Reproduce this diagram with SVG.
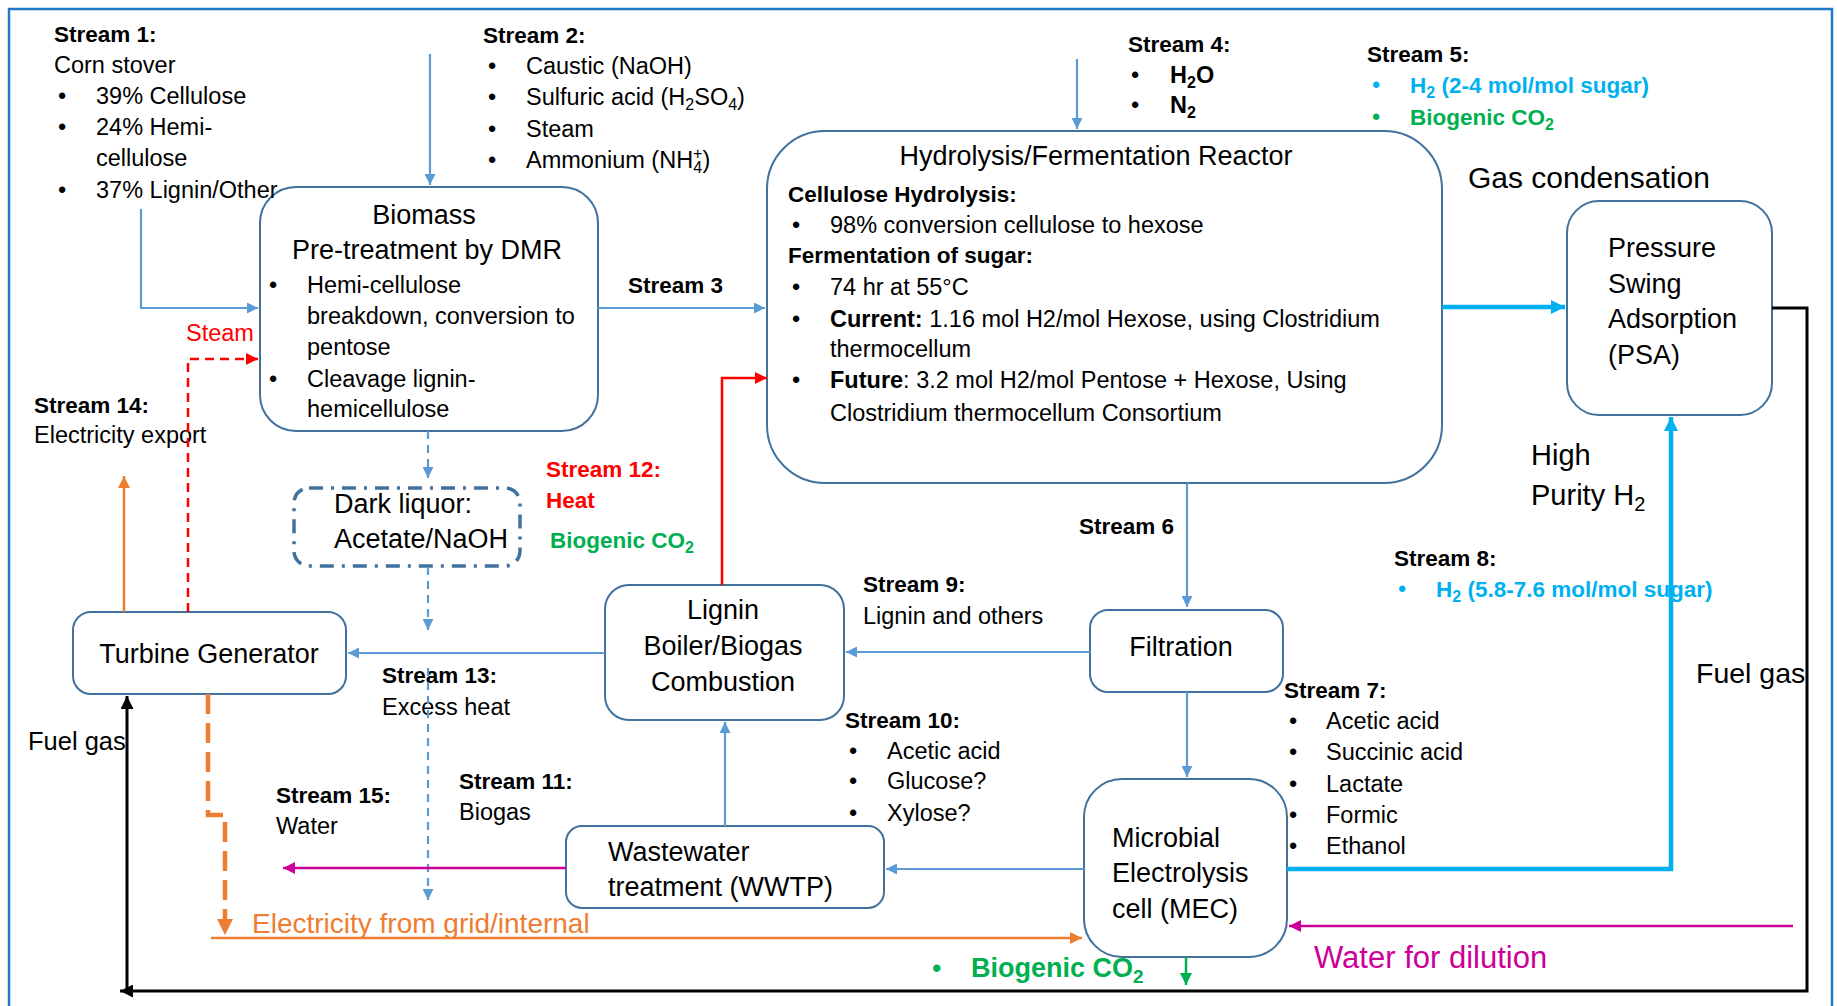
<svg xmlns="http://www.w3.org/2000/svg" width="1837" height="1006" viewBox="0 0 1837 1006">
<style>
text{font-family:"Liberation Sans",Arial,sans-serif;font-size:23.5px;fill:#000}
.b{font-weight:bold;font-size:22.5px}
.h{font-size:27px}
.big{font-size:30px}
.sub{font-size:16px}
.red{fill:#FF0000}
.grn{fill:#00B050}
.cyn{fill:#00B0F0}
.org{fill:#ED7D31}
.mag{fill:#CC0099}
.box{fill:#fff;stroke:#41719C;stroke-width:2}
.blue{stroke:#5B9BD5;stroke-width:2.2;fill:none}
.cyan{stroke:#00B0F0;stroke-width:4.5;fill:none}
.redl{stroke:#FF0000;stroke-width:2.5;fill:none}
.orl{stroke:#ED7D31;stroke-width:2.5;fill:none}
.magl{stroke:#CC0099;stroke-width:2.5;fill:none}
.blk{stroke:#000;stroke-width:3;fill:none}
.grl{stroke:#00B050;stroke-width:2.5;fill:none}
</style>
<defs>
<marker id="ab" viewBox="0 0 10 10" refX="10" refY="5" markerWidth="11" markerHeight="11" markerUnits="userSpaceOnUse" orient="auto"><path d="M0,0L10,5L0,10z" fill="#5B9BD5"/></marker>
<marker id="ac" viewBox="0 0 10 10" refX="10" refY="5" markerWidth="14" markerHeight="14" markerUnits="userSpaceOnUse" orient="auto"><path d="M0,0L10,5L0,10z" fill="#00B0F0"/></marker>
<marker id="ar" viewBox="0 0 10 10" refX="10" refY="5" markerWidth="12" markerHeight="12" markerUnits="userSpaceOnUse" orient="auto"><path d="M0,0L10,5L0,10z" fill="#FF0000"/></marker>
<marker id="ao" viewBox="0 0 10 10" refX="10" refY="5" markerWidth="12" markerHeight="12" markerUnits="userSpaceOnUse" orient="auto"><path d="M0,0L10,5L0,10z" fill="#ED7D31"/></marker>
<marker id="ao2" viewBox="0 0 10 10" refX="10" refY="5" markerWidth="16" markerHeight="16" markerUnits="userSpaceOnUse" orient="auto"><path d="M0,0L10,5L0,10z" fill="#ED7D31"/></marker>
<marker id="am" viewBox="0 0 10 10" refX="10" refY="5" markerWidth="12" markerHeight="12" markerUnits="userSpaceOnUse" orient="auto"><path d="M0,0L10,5L0,10z" fill="#CC0099"/></marker>
<marker id="ak" viewBox="0 0 10 10" refX="10" refY="5" markerWidth="13" markerHeight="13" markerUnits="userSpaceOnUse" orient="auto"><path d="M0,0L10,5L0,10z" fill="#000"/></marker>
<marker id="ag" viewBox="0 0 10 10" refX="10" refY="5" markerWidth="12" markerHeight="12" markerUnits="userSpaceOnUse" orient="auto"><path d="M0,0L10,5L0,10z" fill="#00B050"/></marker>
</defs>
<rect width="1837" height="1006" fill="#fff"/>
<path d="M9,1012V9H1832V1012" fill="none" stroke="#1F78C8" stroke-width="2.5"/>

<g id="biomass">
<rect class="box" x="260" y="187" width="338" height="244" rx="36"/>
<text class="h" x="424" y="224" text-anchor="middle">Biomass</text>
<text class="h" x="427" y="259" text-anchor="middle">Pre-treatment by DMR</text>
<text x="269" y="293">•</text><text x="307" y="293">Hemi-cellulose</text>
<text x="307" y="324">breakdown, conversion to</text>
<text x="307" y="355">pentose</text>
<text x="269" y="387">•</text><text x="307" y="387">Cleavage lignin-</text>
<text x="307" y="417">hemicellulose</text>
</g>

<g id="hydrolysis">
<rect class="box" x="767" y="131" width="675" height="352" rx="58"/>
<text class="h" x="1096" y="165" text-anchor="middle">Hydrolysis/Fermentation Reactor</text>
<text class="b" x="788" y="202">Cellulose Hydrolysis:</text>
<text x="792" y="233">•</text><text x="830" y="233">98% conversion cellulose to hexose</text>
<text class="b" x="788" y="263">Fermentation of sugar:</text>
<text x="792" y="295">•</text><text x="830" y="295">74 hr at 55°C</text>
<text x="792" y="327">•</text><text x="830" y="327"><tspan font-weight="bold">Current:</tspan> 1.16 mol H2/mol Hexose, using Clostridium</text>
<text x="830" y="357">thermocellum</text>
<text x="792" y="388">•</text><text x="830" y="388"><tspan font-weight="bold">Future</tspan>: 3.2 mol H2/mol Pentose + Hexose, Using</text>
<text x="830" y="421">Clostridium thermocellum Consortium</text>
</g>

<g id="psa">
<rect class="box" x="1567" y="201" width="205" height="214" rx="32"/>
<text class="h" x="1608" y="257">Pressure</text>
<text class="h" x="1608" y="293">Swing</text>
<text class="h" x="1608" y="328">Adsorption</text>
<text class="h" x="1608" y="364">(PSA)</text>
</g>

<g id="darkliquor">
<rect x="294" y="488" width="226" height="78" rx="15" fill="#fff" stroke="#41719C" stroke-width="3.5" stroke-dasharray="14 8 3 8"/>
<text class="h" x="334" y="513">Dark liquor:</text>
<text class="h" x="334" y="548">Acetate/NaOH</text>
</g>

<g id="turbine">
<rect class="box" x="73" y="612" width="273" height="82" rx="18"/>
<text class="h" x="209" y="663" text-anchor="middle">Turbine Generator</text>
</g>

<g id="lignin">
<rect class="box" x="605" y="585" width="239" height="135" rx="24"/>
<text class="h" x="723" y="619" text-anchor="middle">Lignin</text>
<text class="h" x="723" y="655" text-anchor="middle">Boiler/Biogas</text>
<text class="h" x="723" y="691" text-anchor="middle">Combustion</text>
</g>

<g id="filtration">
<rect class="box" x="1090" y="610" width="193" height="82" rx="18"/>
<text class="h" x="1181" y="656" text-anchor="middle">Filtration</text>
</g>

<g id="mec">
<rect class="box" x="1084" y="779" width="203" height="178" rx="38"/>
<text class="h" x="1112" y="847">Microbial</text>
<text class="h" x="1112" y="882">Electrolysis</text>
<text class="h" x="1112" y="918">cell (MEC)</text>
</g>

<g id="wwtp">
<rect class="box" x="566" y="826" width="318" height="82" rx="16"/>
<text class="h" x="608" y="861">Wastewater</text>
<text class="h" x="608" y="896">treatment (WWTP)</text>
</g>

<g id="labels">
<text class="b" x="54" y="42">Stream 1:</text>
<text x="54" y="73">Corn stover</text>
<text x="58" y="104">•</text><text x="96" y="104">39% Cellulose</text>
<text x="58" y="135">•</text><text x="96" y="135">24% Hemi-</text>
<text x="96" y="166">cellulose</text>
<text x="58" y="198">•</text><text x="96" y="198">37% Lignin/Other</text>

<text class="b" x="483" y="43">Stream 2:</text>
<text x="488" y="74">•</text><text x="526" y="74">Caustic (NaOH)</text>
<text x="488" y="105">•</text><text x="526" y="105">Sulfuric acid (H<tspan class="sub" dy="5">2</tspan><tspan dy="-5">SO</tspan><tspan class="sub" dy="5">4</tspan><tspan dy="-5">)</tspan></text>
<text x="488" y="137">•</text><text x="526" y="137">Steam</text>
<text x="488" y="168">•</text><text x="526" y="168">Ammonium (NH<tspan class="sub" dy="5">4</tspan><tspan class="sub" dx="-9" dy="-14">+</tspan><tspan dy="9">)</tspan></text>

<text class="b" x="628" y="293">Stream 3</text>

<text class="b" x="1128" y="52">Stream 4:</text>
<text x="1131" y="83">•</text><text x="1170" y="83" font-weight="bold">H<tspan class="sub" dy="5">2</tspan><tspan dy="-5">O</tspan></text>
<text x="1131" y="113">•</text><text x="1170" y="113" font-weight="bold">N<tspan class="sub" dy="5">2</tspan></text>

<text class="b" x="1367" y="62">Stream 5:</text>
<text class="cyn" x="1372" y="93">•</text><text class="b cyn" x="1410" y="93">H<tspan class="sub" dy="5">2</tspan><tspan dy="-5"> (2-4 mol/mol sugar)</tspan></text>
<text class="grn" x="1372" y="125">•</text><text class="b grn" x="1410" y="125">Biogenic CO<tspan class="sub" dy="5">2</tspan></text>

<text class="big" x="1468" y="188">Gas condensation</text>
<text x="1531" y="465" style="font-size:29px">High</text>
<text x="1531" y="505" style="font-size:29px">Purity H<tspan style="font-size:20px" dy="6">2</tspan></text>

<text class="b" x="1079" y="534">Stream 6</text>

<text class="b" x="1284" y="698">Stream 7:</text>
<text x="1289" y="729">•</text><text x="1326" y="729">Acetic acid</text>
<text x="1289" y="760">•</text><text x="1326" y="760">Succinic acid</text>
<text x="1289" y="792">•</text><text x="1326" y="792">Lactate</text>
<text x="1289" y="823">•</text><text x="1326" y="823">Formic</text>
<text x="1289" y="854">•</text><text x="1326" y="854">Ethanol</text>

<text class="b" x="1394" y="566">Stream 8:</text>
<text class="cyn" x="1398" y="597">•</text><text class="b cyn" x="1436" y="597">H<tspan class="sub" dy="5">2</tspan><tspan dy="-5"> (5.8-7.6 mol/mol sugar)</tspan></text>

<text x="1696" y="683" style="font-size:28.5px">Fuel gas</text>
<text x="28" y="750" style="font-size:25.5px">Fuel gas</text>

<text class="b" x="863" y="592">Stream 9:</text>
<text x="863" y="624">Lignin and others</text>

<text class="b" x="845" y="728">Stream 10:</text>
<text x="849" y="759">•</text><text x="887" y="759">Acetic acid</text>
<text x="849" y="789">•</text><text x="887" y="789">Glucose?</text>
<text x="849" y="821">•</text><text x="887" y="821">Xylose?</text>

<text class="b" x="459" y="789">Stream 11:</text>
<text x="459" y="820">Biogas</text>

<text class="b red" x="546" y="477">Stream 12:</text>
<text class="b red" x="546" y="508">Heat</text>
<text class="b grn" x="550" y="548">Biogenic CO<tspan class="sub" dy="5">2</tspan></text>

<text class="b" x="382" y="683">Stream 13:</text>
<text x="382" y="715">Excess heat</text>

<text class="b" x="34" y="413">Stream 14:</text>
<text x="34" y="443">Electricity export</text>

<text class="b" x="276" y="803">Stream 15:</text>
<text x="276" y="834">Water</text>

<text class="red" x="186" y="341">Steam</text>
<text class="org" x="252" y="933" style="font-size:28px">Electricity from grid/internal</text>
<text class="mag" x="1314" y="968" style="font-size:31px">Water for dilution</text>
<text class="grn" x="932" y="977" style="font-size:27px">•</text>
<text class="grn" x="971" y="977" style="font-size:27px;font-weight:bold">Biogenic CO<tspan style="font-size:19px" dy="6">2</tspan></text>
</g>

<g id="connectors">
<path class="blue" d="M141,209V308H258" marker-end="url(#ab)"/>
<path class="blue" d="M430,54V185" marker-end="url(#ab)"/>
<path class="blue" d="M598,308H765" marker-end="url(#ab)"/>
<path class="blue" d="M1077,59V129" marker-end="url(#ab)"/>
<path class="cyan" d="M1442,307H1565" marker-end="url(#ac)"/>
<path class="blk" d="M1772,308H1807V991H120" marker-end="url(#ak)"/>
<path class="blk" d="M127,991V696" marker-end="url(#ak)"/>
<path class="blue" d="M1187,483V607" marker-end="url(#ab)"/>
<path class="blue" d="M1187,692V777" marker-end="url(#ab)"/>
<path class="blue" d="M1090,652H846" marker-end="url(#ab)"/>
<path class="blue" d="M1084,869H886" marker-end="url(#ab)"/>
<path class="blue" d="M725,826V722" marker-end="url(#ab)"/>
<path class="blue" d="M605,653H348" marker-end="url(#ab)"/>
<path class="redl" d="M722,585V378H767" marker-end="url(#ar)"/>
<path class="redl" d="M188,612V359H258" stroke-dasharray="9 6" marker-end="url(#ar)"/>
<path class="orl" d="M124,612V476" marker-end="url(#ao)"/>
<path class="blue" d="M428,431V478" stroke-dasharray="8 6" marker-end="url(#ab)"/>
<path class="blue" d="M428,567V630" stroke-dasharray="8 6" marker-end="url(#ab)"/>
<path class="blue" d="M428,668V900" stroke-dasharray="8 6" marker-end="url(#ab)"/>
<path d="M208,694V815H225V935" fill="none" stroke="#ED7D31" stroke-width="4.5" stroke-dasharray="20 9" marker-end="url(#ao2)"/>
<path class="orl" d="M211,938H1082" marker-end="url(#ao)"/>
<path class="magl" d="M1793,926H1289" marker-end="url(#am)"/>
<path class="magl" d="M566,868H283" marker-end="url(#am)"/>
<path class="cyan" d="M1287,869H1671V417" marker-end="url(#ac)"/>
<path class="grl" d="M1186,957V985" marker-end="url(#ag)"/>
</g>
</svg>
